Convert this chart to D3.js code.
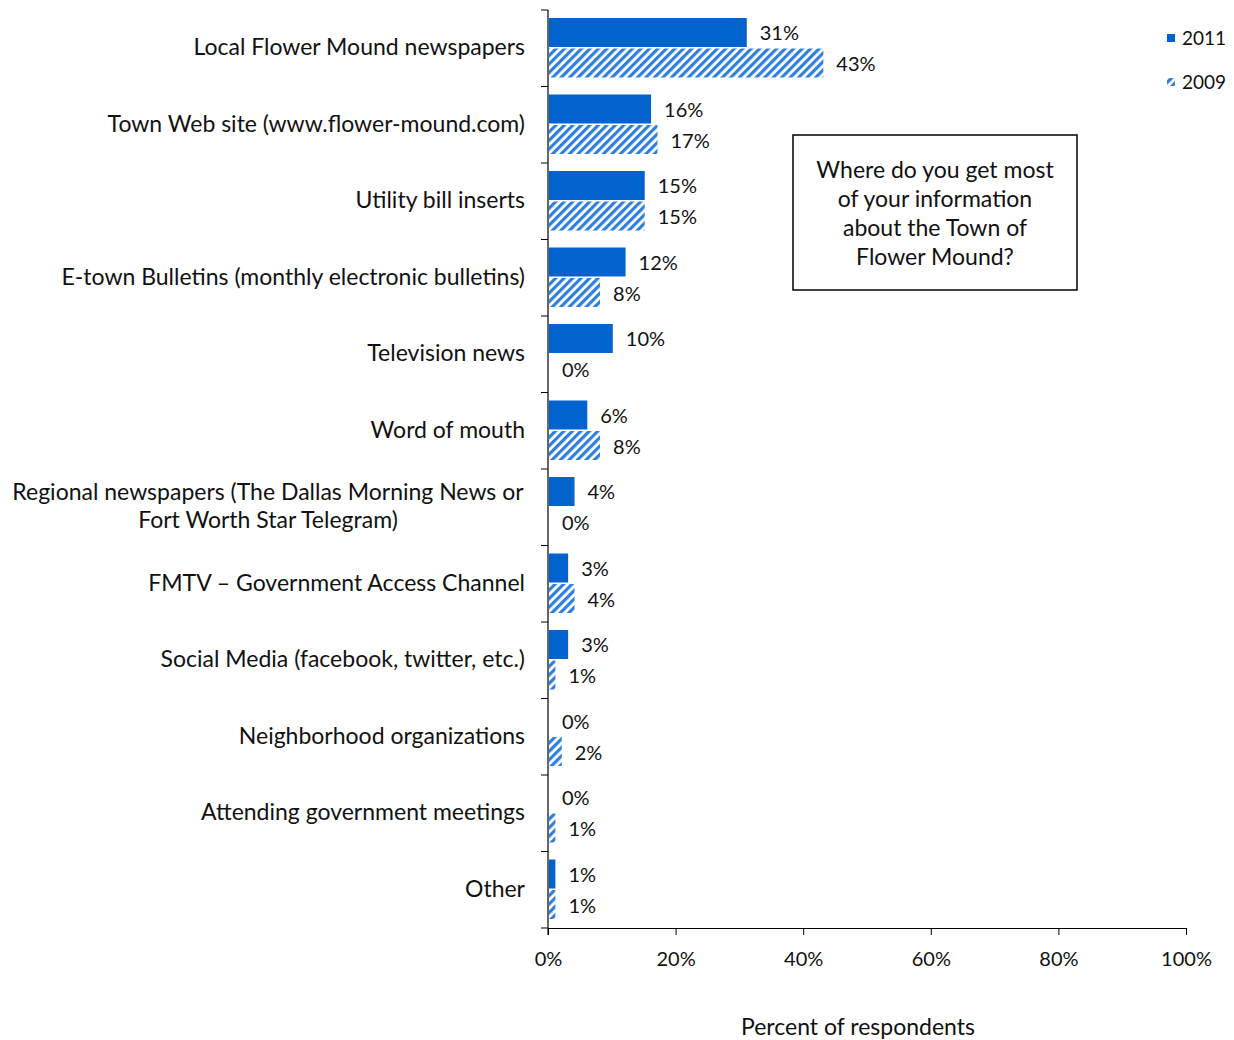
<!DOCTYPE html>
<html>
<head>
<meta charset="utf-8">
<script src="https://cdn.jsdelivr.net/npm/d3@7/dist/d3.min.js"></script>
<style>
  html, body { margin: 0; padding: 0; background: #fff; }
  svg { display: block; }
  text { font-family: Lato, "Open Sans", sans-serif; fill: #111; }
</style>
</head>
<body>
<div id="chart"></div>
<script>
// Survey categories (multi-line labels split with "\n")
const categories = [
  "Local Flower Mound newspapers",
  "Town Web site (www.flower-mound.com)",
  "Utility bill inserts",
  "E-town Bulletins (monthly electronic bulletins)",
  "Television news",
  "Word of mouth",
  "Regional newspapers (The Dallas Morning News or\nFort Worth Star Telegram)",
  "FMTV \u2013 Government Access Channel",
  "Social Media (facebook, twitter, etc.)",
  "Neighborhood organizations",
  "Attending government meetings",
  "Other"
];
const values2011 = [31, 16, 15, 12, 10, 6, 4, 3, 3, 0, 0, 1];
const values2009 = [43, 17, 15, 8, 0, 8, 0, 4, 1, 2, 1, 1];
const seriesNames = ["2011", "2009"];
const xTicks = [0, 20, 40, 60, 80, 100];
const questionLines = [
  "Where do you get most",
  "of your information",
  "about the Town of",
  "Flower Mound?"
];

(function () {
const W = 1234, H = 1040;
const plotLeft = 548, plotRight = 1186, plotTop = 10, plotBottom = 928;
const solid = "#0063CE", hatch = "#2F7FDD";

const svg = d3.select("#chart").append("svg")
  .attr("width", W).attr("height", H);

// Diagonal hatch for the 2009 series
const defs = svg.append("defs");
const pat = defs.append("pattern")
  .attr("id", "hatch")
  .attr("patternUnits", "userSpaceOnUse")
  .attr("width", 6).attr("height", 6)
  .attr("patternTransform", "rotate(45)");
pat.append("rect").attr("width", 6).attr("height", 6).attr("fill", "#fff");
pat.append("rect").attr("x", 0).attr("width", 3.2).attr("height", 6).attr("fill", hatch);

const x = d3.scaleLinear().domain([0, 100]).range([plotLeft, plotRight]);
const y = d3.scaleBand().domain(d3.range(categories.length)).range([plotTop, plotBottom]).paddingInner(0).paddingOuter(0);
const sub = d3.scaleBand().domain(seriesNames).range([8, y.bandwidth() - 9]).paddingInner(0.05);

const rows = categories.map((c, i) => ({ i, c, v: [values2011[i], values2009[i]] }));

const g = svg.append("g");

// Bars and value labels
rows.forEach(r => {
  seriesNames.forEach((s, k) => {
    const v = r.v[k];
    const y0 = y(r.i) + sub(s);
    if (v > 0) {
      g.append("rect")
        .attr("x", x(0) + 1)
        .attr("y", y0)
        .attr("width", x(v) - x(0))
        .attr("height", sub.bandwidth())
        .attr("fill", k === 0 ? solid : "url(#hatch)");
    }
    g.append("text")
      .attr("x", x(v) + 14)
      .attr("y", y0 + sub.bandwidth() / 2 + 1)
      .attr("dy", "0.35em")
      .attr("font-size", 20)
      .text(v + "%");
  });
});

// Y axis line with boundary ticks
g.append("line").attr("x1", plotLeft).attr("x2", plotLeft).attr("y1", plotTop).attr("y2", plotBottom + 7)
  .attr("stroke", "#000").attr("stroke-width", 1.2);
d3.range(categories.length + 1).forEach(i => {
  const yy = plotTop + i * y.step();
  g.append("line").attr("x1", plotLeft - 7).attr("x2", plotLeft).attr("y1", yy).attr("y2", yy)
    .attr("stroke", "#000").attr("stroke-width", 1);
});

// X axis
const xAxis = d3.axisBottom(x).tickValues(xTicks).tickFormat(d => d + "%").tickSize(7).tickSizeOuter(0);
const ax = svg.append("g").attr("transform", `translate(0,${plotBottom})`).call(xAxis);
ax.select(".domain").attr("stroke", "#000").attr("stroke-width", 1.2);
ax.selectAll(".tick line").attr("stroke", "#000");
ax.selectAll(".tick text").attr("font-size", 20).attr("y", 24).attr("font-family", "Lato, sans-serif").attr("fill", "#111");

// Category labels
rows.forEach(r => {
  const lines = r.c.split("\n");
  const cy = y(r.i) + y.bandwidth() / 2;
  const lh = 28;
  const multi = lines.length > 1;
  lines.forEach((ln, j) => {
    svg.append("text")
      .attr("x", multi ? 268 : 525)
      .attr("y", cy + (j - (lines.length - 1) / 2) * lh - 1)
      .attr("dy", "0.35em")
      .attr("text-anchor", multi ? "middle" : "end")
      .attr("font-size", 23)
      .text(ln);
  });
});

// Axis title
svg.append("text").attr("x", 858).attr("y", 1027).attr("dy", "0.35em")
  .attr("text-anchor", "middle").attr("font-size", 23).text("Percent of respondents");

// Legend
const legend = svg.append("g");
seriesNames.forEach((s, k) => {
  const ly = 38 + k * 44;
  legend.append("rect").attr("x", 1167).attr("y", ly - 4).attr("width", 8).attr("height", 8)
    .attr("fill", k === 0 ? solid : "url(#hatch)");
  legend.append("text").attr("x", 1182).attr("y", ly).attr("dy", "0.35em")
    .attr("font-size", 19).text(s);
});

// Question box
svg.append("rect").attr("x", 793).attr("y", 135).attr("width", 284).attr("height", 155)
  .attr("fill", "#fff").attr("stroke", "#000").attr("stroke-width", 1.5);
questionLines.forEach((t, j) => {
  svg.append("text").attr("x", 935).attr("y", 170 + j * 29).attr("dy", "0.35em")
    .attr("text-anchor", "middle").attr("font-size", 23).text(t);
});
})();
</script>
</body>
</html>
